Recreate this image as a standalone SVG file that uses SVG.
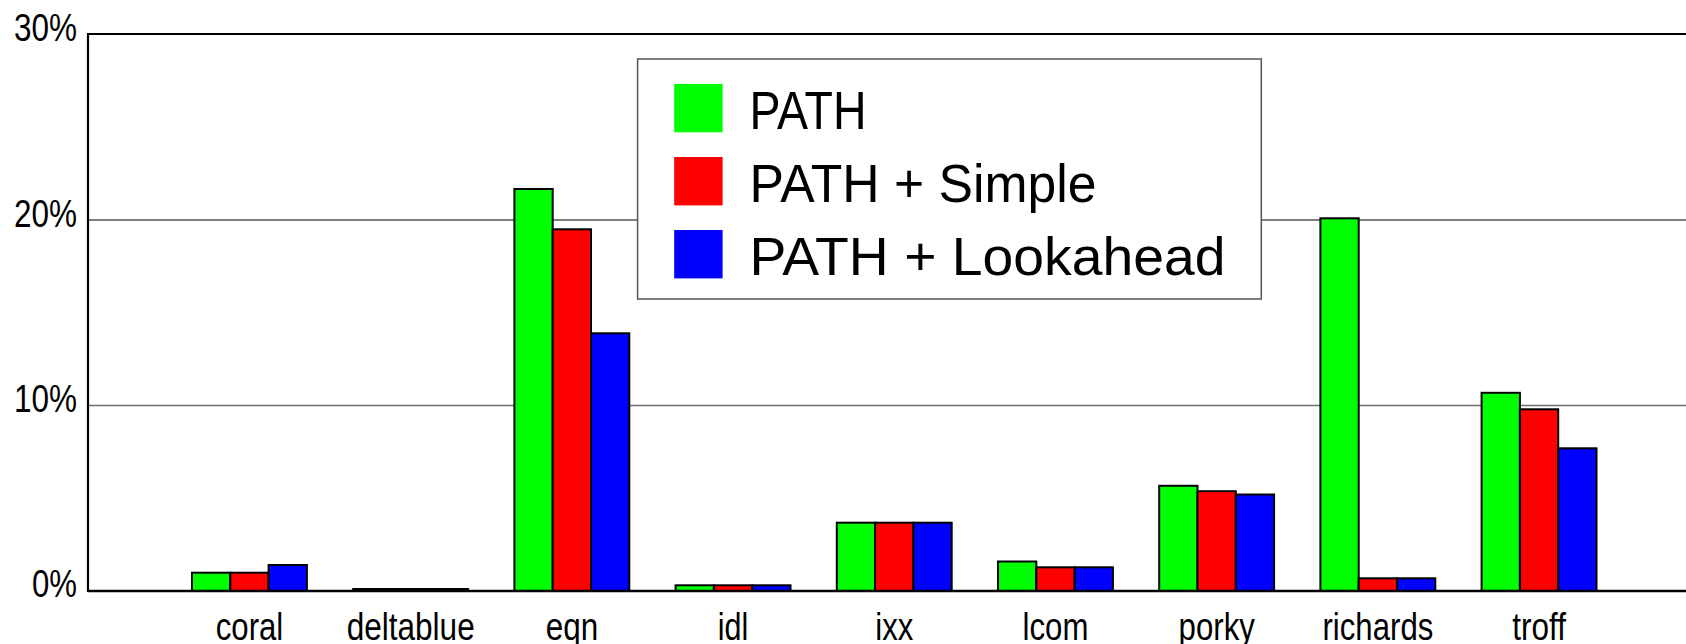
<svg xmlns="http://www.w3.org/2000/svg" width="1686" height="644" viewBox="0 0 1686 644">
<style>
.ax{font-family:"Liberation Sans",Arial,sans-serif;font-size:38px;fill:#000}
.lg{font-family:"Liberation Sans",Arial,sans-serif;font-size:53px;fill:#000}
.g{fill:#00ff00;stroke:#000;stroke-width:2}
.r{fill:#ff0000;stroke:#000;stroke-width:2}
.b{fill:#0000ff;stroke:#000;stroke-width:2}
</style>
<rect width="1686" height="644" fill="#fff"/>
<g id="grid">
<line x1="88" y1="405.5" x2="1686" y2="405.5" stroke="#707070" stroke-width="1.3"/>
<line x1="88" y1="220" x2="1686" y2="220" stroke="#000" stroke-width="1.2"/>
</g>
<g id="axes" stroke="#000" stroke-width="2.2">
<line x1="88" y1="34" x2="1686" y2="34"/>
<line x1="88" y1="33" x2="88" y2="592"/>
</g>
<g id="ylabels" class="ax" text-anchor="end">
<text x="77" y="41" textLength="63" lengthAdjust="spacingAndGlyphs">30%</text>
<text x="77" y="227" textLength="63" lengthAdjust="spacingAndGlyphs">20%</text>
<text x="77" y="412" textLength="63" lengthAdjust="spacingAndGlyphs">10%</text>
<text x="77" y="597" textLength="45" lengthAdjust="spacingAndGlyphs">0%</text>
</g>
<g id="legend">
<rect x="637.6" y="59" width="623.7" height="240" fill="#fff" stroke="#555" stroke-width="1.5"/>
<rect x="674.2" y="83.9" width="48.4" height="48.4" fill="#00ff00"/>
<rect x="674.2" y="157" width="48.4" height="48.4" fill="#ff0000"/>
<rect x="674.2" y="230" width="48.4" height="48.4" fill="#0000ff"/>
<text class="lg" x="749.5" y="129" textLength="117" lengthAdjust="spacingAndGlyphs">PATH</text>
<text class="lg" x="749.5" y="202" textLength="347" lengthAdjust="spacingAndGlyphs">PATH + Simple</text>
<text class="lg" x="749.5" y="275" textLength="476" lengthAdjust="spacingAndGlyphs">PATH + Lookahead</text>
</g>
<g id="coral">
<rect class="g" x="192" y="572.7" width="38.3" height="18.3"/>
<rect class="r" x="230.3" y="572.7" width="38.3" height="18.3"/>
<rect class="b" x="268.6" y="565" width="38.3" height="26"/>
<text class="ax" x="249.5" y="640" text-anchor="middle" textLength="67.5" lengthAdjust="spacingAndGlyphs">coral</text>
</g>
<g id="deltablue">
<rect class="g" x="353.2" y="589" width="38.3" height="2"/>
<rect class="r" x="391.5" y="589" width="38.3" height="2"/>
<rect class="b" x="429.8" y="589" width="38.3" height="2"/>
<text class="ax" x="410.7" y="640" text-anchor="middle" textLength="128" lengthAdjust="spacingAndGlyphs">deltablue</text>
</g>
<g id="eqn">
<rect class="g" x="514.4" y="189" width="38.3" height="402"/>
<rect class="r" x="552.7" y="229.3" width="38.3" height="361.7"/>
<rect class="b" x="591" y="333.3" width="38.3" height="257.7"/>
<text class="ax" x="571.9" y="640" text-anchor="middle" textLength="52.5" lengthAdjust="spacingAndGlyphs">eqn</text>
</g>
<g id="idl">
<rect class="g" x="675.6" y="585.3" width="38.3" height="5.7"/>
<rect class="r" x="713.9" y="585.3" width="38.3" height="5.7"/>
<rect class="b" x="752.2" y="585.3" width="38.3" height="5.7"/>
<text class="ax" x="733.1" y="640" text-anchor="middle" textLength="30.5" lengthAdjust="spacingAndGlyphs">idl</text>
</g>
<g id="ixx">
<rect class="g" x="836.8" y="522.7" width="38.3" height="68.3"/>
<rect class="r" x="875.1" y="522.7" width="38.3" height="68.3"/>
<rect class="b" x="913.4" y="522.7" width="38.3" height="68.3"/>
<text class="ax" x="894.3" y="640" text-anchor="middle" textLength="38" lengthAdjust="spacingAndGlyphs">ixx</text>
</g>
<g id="lcom">
<rect class="g" x="998" y="561.5" width="38.3" height="29.5"/>
<rect class="r" x="1036.3" y="567.3" width="38.3" height="23.7"/>
<rect class="b" x="1074.6" y="567.3" width="38.3" height="23.7"/>
<text class="ax" x="1055.5" y="640" text-anchor="middle" textLength="65.8" lengthAdjust="spacingAndGlyphs">lcom</text>
</g>
<g id="porky">
<rect class="g" x="1159.2" y="485.8" width="38.3" height="105.2"/>
<rect class="r" x="1197.5" y="491.2" width="38.3" height="99.8"/>
<rect class="b" x="1235.8" y="494.5" width="38.3" height="96.5"/>
<text class="ax" x="1216.7" y="640" text-anchor="middle" textLength="76.2" lengthAdjust="spacingAndGlyphs">porky</text>
</g>
<g id="richards">
<rect class="g" x="1320.4" y="218.3" width="38.3" height="372.7"/>
<rect class="r" x="1358.7" y="578.3" width="38.3" height="12.7"/>
<rect class="b" x="1397" y="578.3" width="38.3" height="12.7"/>
<text class="ax" x="1377.9" y="640" text-anchor="middle" textLength="110.8" lengthAdjust="spacingAndGlyphs">richards</text>
</g>
<g id="troff">
<rect class="g" x="1481.6" y="392.8" width="38.3" height="198.2"/>
<rect class="r" x="1519.9" y="409.3" width="38.3" height="181.7"/>
<rect class="b" x="1558.2" y="448.3" width="38.3" height="142.7"/>
<text class="ax" x="1539.1" y="640" text-anchor="middle" textLength="53.7" lengthAdjust="spacingAndGlyphs">troff</text>
</g>
<g id="baseline">
<line x1="88" y1="591" x2="1686" y2="591" stroke="#000" stroke-width="2.4"/>
</g>
</svg>
